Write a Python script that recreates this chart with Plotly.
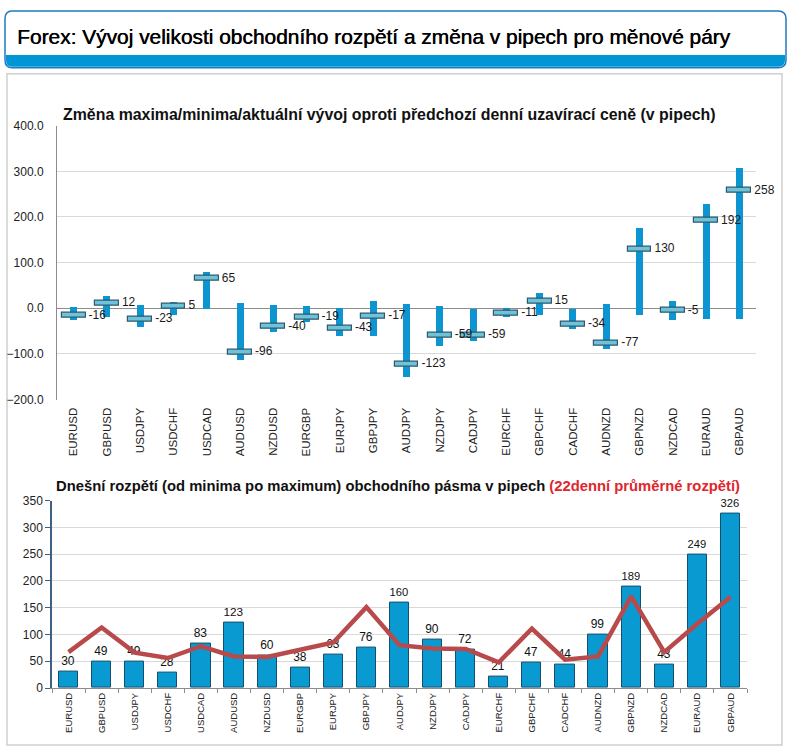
import plotly.graph_objects as go
import numpy as np

pairs = ["EURUSD", "GBPUSD", "USDJPY", "USDCHF", "USDCAD", "AUDUSD", "NZDUSD", "EURGBP",
         "EURJPY", "GBPJPY", "AUDJPY", "NZDJPY", "CADJPY", "EURCHF", "GBPCHF", "CADCHF",
         "AUDNZD", "GBPNZD", "NZDCAD", "EURAUD", "GBPAUD"]

# Top chart: change vs previous daily close (pips)
change_max = [4, 28, 8, 15, 81, 12, 8, 6, 2, 16, 9, 6, 0, 1, 33, 0, 9, 176, 17, 230, 307]
change_min = [-26, -19, -41, -14, 0, -112, -51, -29, -60, -60, -150, -82, -72, -19, -14, -44, -89, -15, -26, -22, -22]
change_now = [-16, 12, -23, 5, 65, -96, -40, -19, -43, -17, -123, -59, -59, -11, 15, -34, -77, 130, -5, 192, 258]

# Bottom chart: today's range and 22-day average range (pips)
range_today = [30, 49, 49, 28, 83, 123, 60, 38, 63, 76, 160, 90, 72, 21, 47, 44, 99, 189, 43, 249, 326]
range_avg22 = [67, 113, 66, 56, 78, 59, 58, 71, 85, 151, 80, 74, 73, 48, 111, 53, 59, 171, 67, 120, 170]

top_ticks = [-200, -100, 0, 100, 200, 300, 400]
bottom_ticks = [0, 50, 100, 150, 200, 250, 300, 350]

W, H = 792, 748
def px(x):
    return x / W
def py(y):
    return 1 - y / H

idx = np.arange(len(pairs))
fig = go.Figure()

# range bars
fig.add_trace(go.Bar(
    x=idx, y=np.array(change_max) - np.array(change_min), base=change_min,
    width=0.21, marker=dict(color="#0d95d1", line=dict(width=0)),
    xaxis="x", yaxis="y", showlegend=False, hoverinfo="skip"))
# current value caps
cap_h = 11
fig.add_trace(go.Bar(
    x=idx, y=[cap_h] * len(idx), base=np.array(change_now) - cap_h / 2,
    width=0.72, marker=dict(color="#6fc2dc", line=dict(color="#2f5a68", width=1.2)),
    xaxis="x", yaxis="y", showlegend=False, hoverinfo="skip"))
# labels
fig.add_trace(go.Scatter(
    x=idx + 0.45, y=change_now, mode="text", text=[str(v) for v in change_now],
    textposition="middle right", textfont=dict(family="Liberation Sans", size=12, color="#1a1a1a"),
    cliponaxis=False, xaxis="x", yaxis="y", showlegend=False, hoverinfo="skip"))

# bottom bars
fig.add_trace(go.Bar(
    x=pairs, y=range_today, width=0.58,
    marker=dict(color="#0a9ad2", line=dict(color="#14506e", width=1)),
    text=[str(v) for v in range_today], textposition="outside",
    textfont=dict(family="Liberation Sans", size=12, color="#111111"),
    cliponaxis=False, xaxis="x2", yaxis="y2", showlegend=False, hoverinfo="skip"))
fig.add_trace(go.Scatter(
    x=pairs, y=range_avg22, mode="lines", line=dict(color="#b84a4b", width=4.5),
    xaxis="x2", yaxis="y2", showlegend=False, hoverinfo="skip"))

shapes = [
    # header box
    dict(type="path", xref="paper", yref="paper",
         path=f"M {px(12)} {py(4)} L {px(778)} {py(4)} Q {px(786)} {py(4)} {px(786)} {py(12)} "
              f"L {px(786)} {py(54)} Q {px(786)} {py(62)} {px(778)} {py(62)} L {px(12)} {py(62)} "
              f"Q {px(5)} {py(62)} {px(5)} {py(54)} L {px(5)} {py(12)} Q {px(5)} {py(4)} {px(12)} {py(4)} Z",
         fillcolor="white", line=dict(color="#1c7bc4", width=1.5), layer="below"),
    dict(type="path", xref="paper", yref="paper",
         path=f"M {px(6)} {py(49)} L {px(785)} {py(49)} L {px(785)} {py(54)} Q {px(785)} {py(61)} {px(778)} {py(61)} "
              f"L {px(12)} {py(61)} Q {px(6)} {py(61)} {px(6)} {py(54)} Z",
         fillcolor="#0096d6", line=dict(width=0), layer="below"),
    # content panel
    dict(type="rect", xref="paper", yref="paper", x0=px(7), x1=px(782), y0=py(752), y1=py(68),
         fillcolor="white", line=dict(color="#cfcfcf", width=1.5), layer="below"),
]

annotations = [
    dict(text="Forex: Vývoj velikosti obchodního rozpětí a změna v pipech pro měnové páry",
         xref="paper", yref="paper", x=px(15), y=py(30), xanchor="left", yanchor="middle",
         showarrow=False, font=dict(family="Liberation Sans", size=20.9, color="#000000",
                                    shadow="0.5px 0px 0px #000000")),
    dict(text="<b>Změna maxima/minima/aktuální vývoj oproti předchozí denní uzavírací ceně (v pipech)</b>",
         xref="paper", yref="paper", x=px(389), y=py(110), xanchor="center", yanchor="middle",
         showarrow=False, font=dict(family="Liberation Sans", size=15.9, color="#111111")),
    dict(text="<b>Dnešní rozpětí (od minima po maximum) obchodního pásma v pipech "
              "<span style='color:#e0262c'>(22denní průměrné rozpětí)</span></b>",
         xref="paper", yref="paper", x=px(398), y=py(488), xanchor="center", yanchor="middle",
         showarrow=False, font=dict(family="Liberation Sans", size=14.8, color="#111111")),
]

fig.update_layout(
    width=W, height=H, margin=dict(l=0, r=0, t=0, b=0),
    paper_bgcolor="white", plot_bgcolor="white",
    barmode="overlay", bargap=0,
    shapes=shapes, annotations=annotations,
    xaxis=dict(domain=[px(57), px(756)], range=[-0.5, len(pairs) - 0.5],
               tickmode="array", tickvals=list(idx), ticktext=pairs, tickangle=-90,
               showgrid=False, zeroline=False, showline=False, ticks="",
               ticklabelstandoff=5,
               tickfont=dict(family="Liberation Sans", size=11.5, color="#222222"), anchor="y"),
    yaxis=dict(domain=[py(400), py(121)], range=[-200, 400], tickvals=top_ticks,
               tickformat=".1f", showgrid=True, gridcolor="#d9d9d9", gridwidth=1,
               zeroline=True, zerolinecolor="#8c8c8c", zerolinewidth=1.3,
               showline=True, linecolor="#8c8c8c", linewidth=1, ticks="",
               ticklabelstandoff=10,
               tickfont=dict(family="Liberation Sans", size=12, color="#222222"), anchor="x"),
    xaxis2=dict(domain=[px(52), px(747)], type="category",
                tickangle=-90, showgrid=False, zeroline=False,
                showline=True, linecolor="#8c8c8c", linewidth=1,
                ticks="outside", tickson="boundaries", ticklen=4, tickcolor="#8c8c8c",
                tickfont=dict(family="Liberation Sans", size=9.5, color="#222222"), anchor="y2"),
    yaxis2=dict(domain=[py(694), py(503)], range=[0, 350], tickvals=bottom_ticks,
                showgrid=True, gridcolor="#d9d9d9", gridwidth=1, zeroline=False,
                showline=True, linecolor="#3f5f85", linewidth=1.5,
                ticks="outside", ticklen=5, tickcolor="#3f5f85",
                tickfont=dict(family="Liberation Sans", size=12, color="#222222"), anchor="x2"),
)

fig.write_html("out.html", config={"displayModeBar": False},
               post_script="document.body.style.margin='0';document.body.style.overflow='hidden';")
